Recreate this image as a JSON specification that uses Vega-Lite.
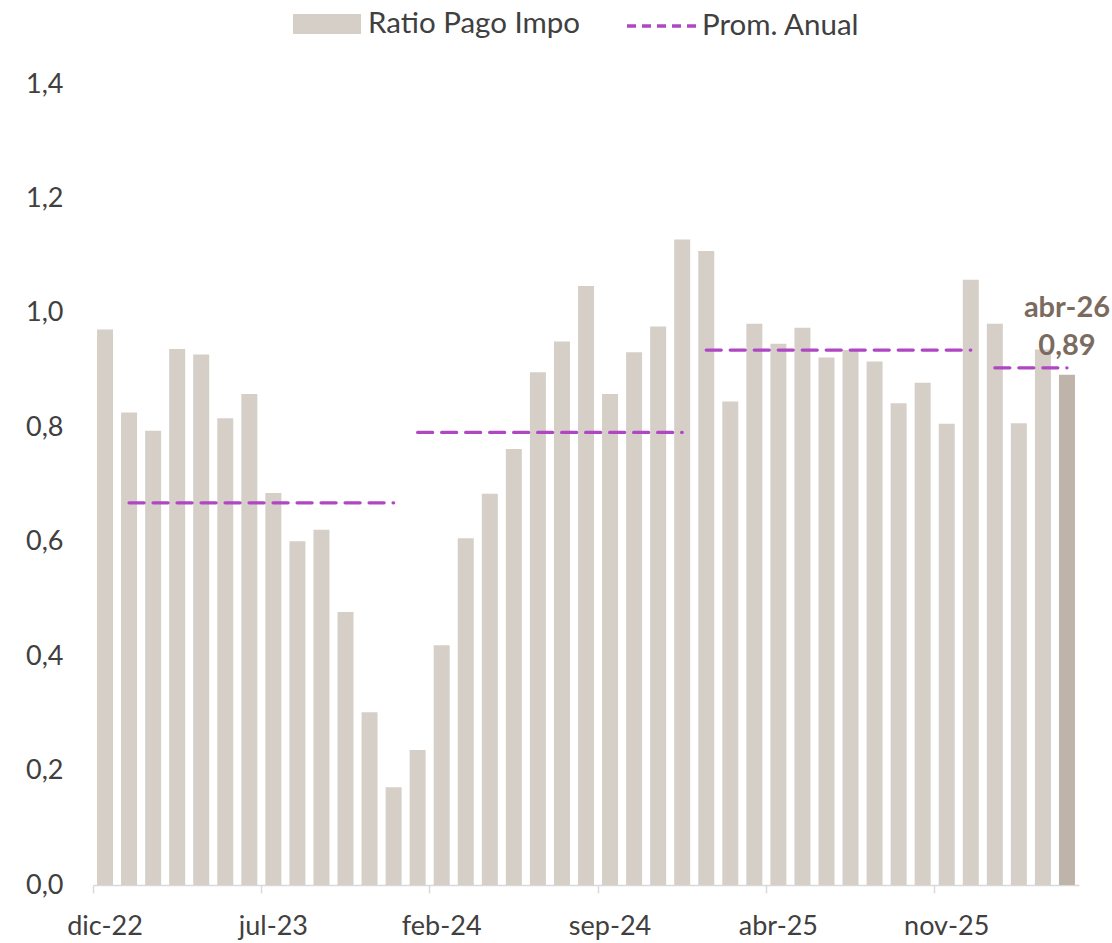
{
  "$schema": "https://vega.github.io/schema/vega-lite/v6.json",
  "width": 986,
  "height": 801,
  "autosize": {"type": "none"},
  "padding": {"left": 93, "top": 84, "right": 33, "bottom": 58},
  "background": "white",
  "config": {"view": {"stroke": null}, "font": "Lato"},
  "data": {"values": [
    {"mes": "dic-22", "valor": 0.971, "prom": null, "anio": 2022, "serie": "Ratio Pago Impo", "linea": "Prom. Anual", "etiqueta": null},
    {"mes": "ene-23", "valor": 0.826, "prom": 0.668, "anio": 2023, "serie": "Ratio Pago Impo", "linea": "Prom. Anual", "etiqueta": null},
    {"mes": "feb-23", "valor": 0.794, "prom": 0.668, "anio": 2023, "serie": "Ratio Pago Impo", "linea": "Prom. Anual", "etiqueta": null},
    {"mes": "mar-23", "valor": 0.937, "prom": 0.668, "anio": 2023, "serie": "Ratio Pago Impo", "linea": "Prom. Anual", "etiqueta": null},
    {"mes": "abr-23", "valor": 0.927, "prom": 0.668, "anio": 2023, "serie": "Ratio Pago Impo", "linea": "Prom. Anual", "etiqueta": null},
    {"mes": "may-23", "valor": 0.816, "prom": 0.668, "anio": 2023, "serie": "Ratio Pago Impo", "linea": "Prom. Anual", "etiqueta": null},
    {"mes": "jun-23", "valor": 0.858, "prom": 0.668, "anio": 2023, "serie": "Ratio Pago Impo", "linea": "Prom. Anual", "etiqueta": null},
    {"mes": "jul-23", "valor": 0.685, "prom": 0.668, "anio": 2023, "serie": "Ratio Pago Impo", "linea": "Prom. Anual", "etiqueta": null},
    {"mes": "ago-23", "valor": 0.601, "prom": 0.668, "anio": 2023, "serie": "Ratio Pago Impo", "linea": "Prom. Anual", "etiqueta": null},
    {"mes": "sep-23", "valor": 0.621, "prom": 0.668, "anio": 2023, "serie": "Ratio Pago Impo", "linea": "Prom. Anual", "etiqueta": null},
    {"mes": "oct-23", "valor": 0.477, "prom": 0.668, "anio": 2023, "serie": "Ratio Pago Impo", "linea": "Prom. Anual", "etiqueta": null},
    {"mes": "nov-23", "valor": 0.302, "prom": 0.668, "anio": 2023, "serie": "Ratio Pago Impo", "linea": "Prom. Anual", "etiqueta": null},
    {"mes": "dic-23", "valor": 0.171, "prom": 0.668, "anio": 2023, "serie": "Ratio Pago Impo", "linea": "Prom. Anual", "etiqueta": null},
    {"mes": "ene-24", "valor": 0.236, "prom": 0.791, "anio": 2024, "serie": "Ratio Pago Impo", "linea": "Prom. Anual", "etiqueta": null},
    {"mes": "feb-24", "valor": 0.419, "prom": 0.791, "anio": 2024, "serie": "Ratio Pago Impo", "linea": "Prom. Anual", "etiqueta": null},
    {"mes": "mar-24", "valor": 0.606, "prom": 0.791, "anio": 2024, "serie": "Ratio Pago Impo", "linea": "Prom. Anual", "etiqueta": null},
    {"mes": "abr-24", "valor": 0.684, "prom": 0.791, "anio": 2024, "serie": "Ratio Pago Impo", "linea": "Prom. Anual", "etiqueta": null},
    {"mes": "may-24", "valor": 0.762, "prom": 0.791, "anio": 2024, "serie": "Ratio Pago Impo", "linea": "Prom. Anual", "etiqueta": null},
    {"mes": "jun-24", "valor": 0.896, "prom": 0.791, "anio": 2024, "serie": "Ratio Pago Impo", "linea": "Prom. Anual", "etiqueta": null},
    {"mes": "jul-24", "valor": 0.950, "prom": 0.791, "anio": 2024, "serie": "Ratio Pago Impo", "linea": "Prom. Anual", "etiqueta": null},
    {"mes": "ago-24", "valor": 1.047, "prom": 0.791, "anio": 2024, "serie": "Ratio Pago Impo", "linea": "Prom. Anual", "etiqueta": null},
    {"mes": "sep-24", "valor": 0.858, "prom": 0.791, "anio": 2024, "serie": "Ratio Pago Impo", "linea": "Prom. Anual", "etiqueta": null},
    {"mes": "oct-24", "valor": 0.931, "prom": 0.791, "anio": 2024, "serie": "Ratio Pago Impo", "linea": "Prom. Anual", "etiqueta": null},
    {"mes": "nov-24", "valor": 0.976, "prom": 0.791, "anio": 2024, "serie": "Ratio Pago Impo", "linea": "Prom. Anual", "etiqueta": null},
    {"mes": "dic-24", "valor": 1.128, "prom": 0.791, "anio": 2024, "serie": "Ratio Pago Impo", "linea": "Prom. Anual", "etiqueta": null},
    {"mes": "ene-25", "valor": 1.108, "prom": 0.935, "anio": 2025, "serie": "Ratio Pago Impo", "linea": "Prom. Anual", "etiqueta": null},
    {"mes": "feb-25", "valor": 0.845, "prom": 0.935, "anio": 2025, "serie": "Ratio Pago Impo", "linea": "Prom. Anual", "etiqueta": null},
    {"mes": "mar-25", "valor": 0.981, "prom": 0.935, "anio": 2025, "serie": "Ratio Pago Impo", "linea": "Prom. Anual", "etiqueta": null},
    {"mes": "abr-25", "valor": 0.946, "prom": 0.935, "anio": 2025, "serie": "Ratio Pago Impo", "linea": "Prom. Anual", "etiqueta": null},
    {"mes": "may-25", "valor": 0.974, "prom": 0.935, "anio": 2025, "serie": "Ratio Pago Impo", "linea": "Prom. Anual", "etiqueta": null},
    {"mes": "jun-25", "valor": 0.922, "prom": 0.935, "anio": 2025, "serie": "Ratio Pago Impo", "linea": "Prom. Anual", "etiqueta": null},
    {"mes": "jul-25", "valor": 0.935, "prom": 0.935, "anio": 2025, "serie": "Ratio Pago Impo", "linea": "Prom. Anual", "etiqueta": null},
    {"mes": "ago-25", "valor": 0.915, "prom": 0.935, "anio": 2025, "serie": "Ratio Pago Impo", "linea": "Prom. Anual", "etiqueta": null},
    {"mes": "sep-25", "valor": 0.842, "prom": 0.935, "anio": 2025, "serie": "Ratio Pago Impo", "linea": "Prom. Anual", "etiqueta": null},
    {"mes": "oct-25", "valor": 0.878, "prom": 0.935, "anio": 2025, "serie": "Ratio Pago Impo", "linea": "Prom. Anual", "etiqueta": null},
    {"mes": "nov-25", "valor": 0.806, "prom": 0.935, "anio": 2025, "serie": "Ratio Pago Impo", "linea": "Prom. Anual", "etiqueta": null},
    {"mes": "dic-25", "valor": 1.058, "prom": 0.935, "anio": 2025, "serie": "Ratio Pago Impo", "linea": "Prom. Anual", "etiqueta": null},
    {"mes": "ene-26", "valor": 0.981, "prom": 0.904, "anio": 2026, "serie": "Ratio Pago Impo", "linea": "Prom. Anual", "etiqueta": null},
    {"mes": "feb-26", "valor": 0.807, "prom": 0.904, "anio": 2026, "serie": "Ratio Pago Impo", "linea": "Prom. Anual", "etiqueta": null},
    {"mes": "mar-26", "valor": 0.936, "prom": 0.904, "anio": 2026, "serie": "Ratio Pago Impo", "linea": "Prom. Anual", "etiqueta": null},
    {"mes": "abr-26", "valor": 0.892, "prom": 0.904, "anio": 2026, "serie": "ultimo", "linea": "Prom. Anual", "etiqueta": "abr-26\n0,89"}
  ]},
  "encoding": {
    "x": {
      "field": "mes", "type": "ordinal", "sort": null,
      "scale": {"paddingInner": 0, "paddingOuter": 0},
      "axis": {
        "title": null,
        "values": ["dic-22", "jul-23", "feb-24", "sep-24", "abr-25", "nov-25"],
        "bandPosition": 0,
        "labelAngle": 0,
        "labelFontSize": 27,
        "labelColor": "#404040",
        "labelPadding": 20,
        "ticks": true,
        "tickSize": 8,
        "tickColor": "#d9d9d9",
        "tickWidth": 1.5,
        "domainColor": "#d9d9d9",
        "domainWidth": 1.5,
        "grid": false
      }
    }
  },
  "layer": [
    {
      "mark": {"type": "bar", "width": {"band": 0.665}},
      "encoding": {
        "y": {
          "field": "valor", "type": "quantitative",
          "scale": {"domain": [0, 1.4], "nice": false, "zero": true},
          "axis": {
            "title": null,
            "values": [0, 0.2, 0.4, 0.6, 0.8, 1.0, 1.2, 1.4],
            "labelExpr": "replace(format(datum.value, '.1f'), '.', ',')",
            "grid": false, "domain": false, "ticks": false,
            "labelPadding": 30,
            "labelFontSize": 27,
            "labelColor": "#404040"
          }
        },
        "fill": {
          "field": "serie", "type": "nominal",
          "scale": {"domain": ["Ratio Pago Impo", "ultimo"], "range": ["#d6cfc8", "#bfb4aa"]},
          "legend": {
            "orient": "none", "legendX": 200, "legendY": -94,
            "title": null, "values": ["Ratio Pago Impo"],
            "symbolType": "M-1,-0.294H1V0.294H-1Z",
            "symbolSize": 4624, "symbolStrokeWidth": 0,
            "labelFontSize": 29.5, "labelColor": "#404040", "labelOffset": 7,
            "labelLimit": 0,
            "padding": 0
          }
        }
      }
    },
    {
      "mark": {"type": "line", "strokeWidth": 3.3, "strokeDash": [15, 9], "strokeCap": "round"},
      "encoding": {
        "y": {"field": "prom", "type": "quantitative"},
        "stroke": {
          "field": "linea", "type": "nominal",
          "scale": {"range": ["#b046c4"]},
          "legend": {
            "orient": "none", "legendX": 532, "legendY": -95,
            "title": null,
            "symbolType": "stroke", "symbolSize": 4900,
            "symbolStrokeWidth": 3.3, "symbolDash": [9, 6],
            "labelFontSize": 29.5, "labelColor": "#404040", "labelOffset": 3,
            "labelLimit": 0,
            "padding": 0
          }
        },
        "detail": {"field": "anio", "type": "nominal"}
      }
    },
    {
      "transform": [{"filter": "datum.etiqueta != null"}],
      "mark": {"type": "text", "fontSize": 29, "fontWeight": "bold", "color": "#7b6b5f", "baseline": "bottom", "align": "center", "dy": -52, "lineBreak": "\n", "lineHeight": 38},
      "encoding": {
        "y": {"field": "valor", "type": "quantitative"},
        "text": {"field": "etiqueta", "type": "nominal"}
      }
    }
  ]
}
